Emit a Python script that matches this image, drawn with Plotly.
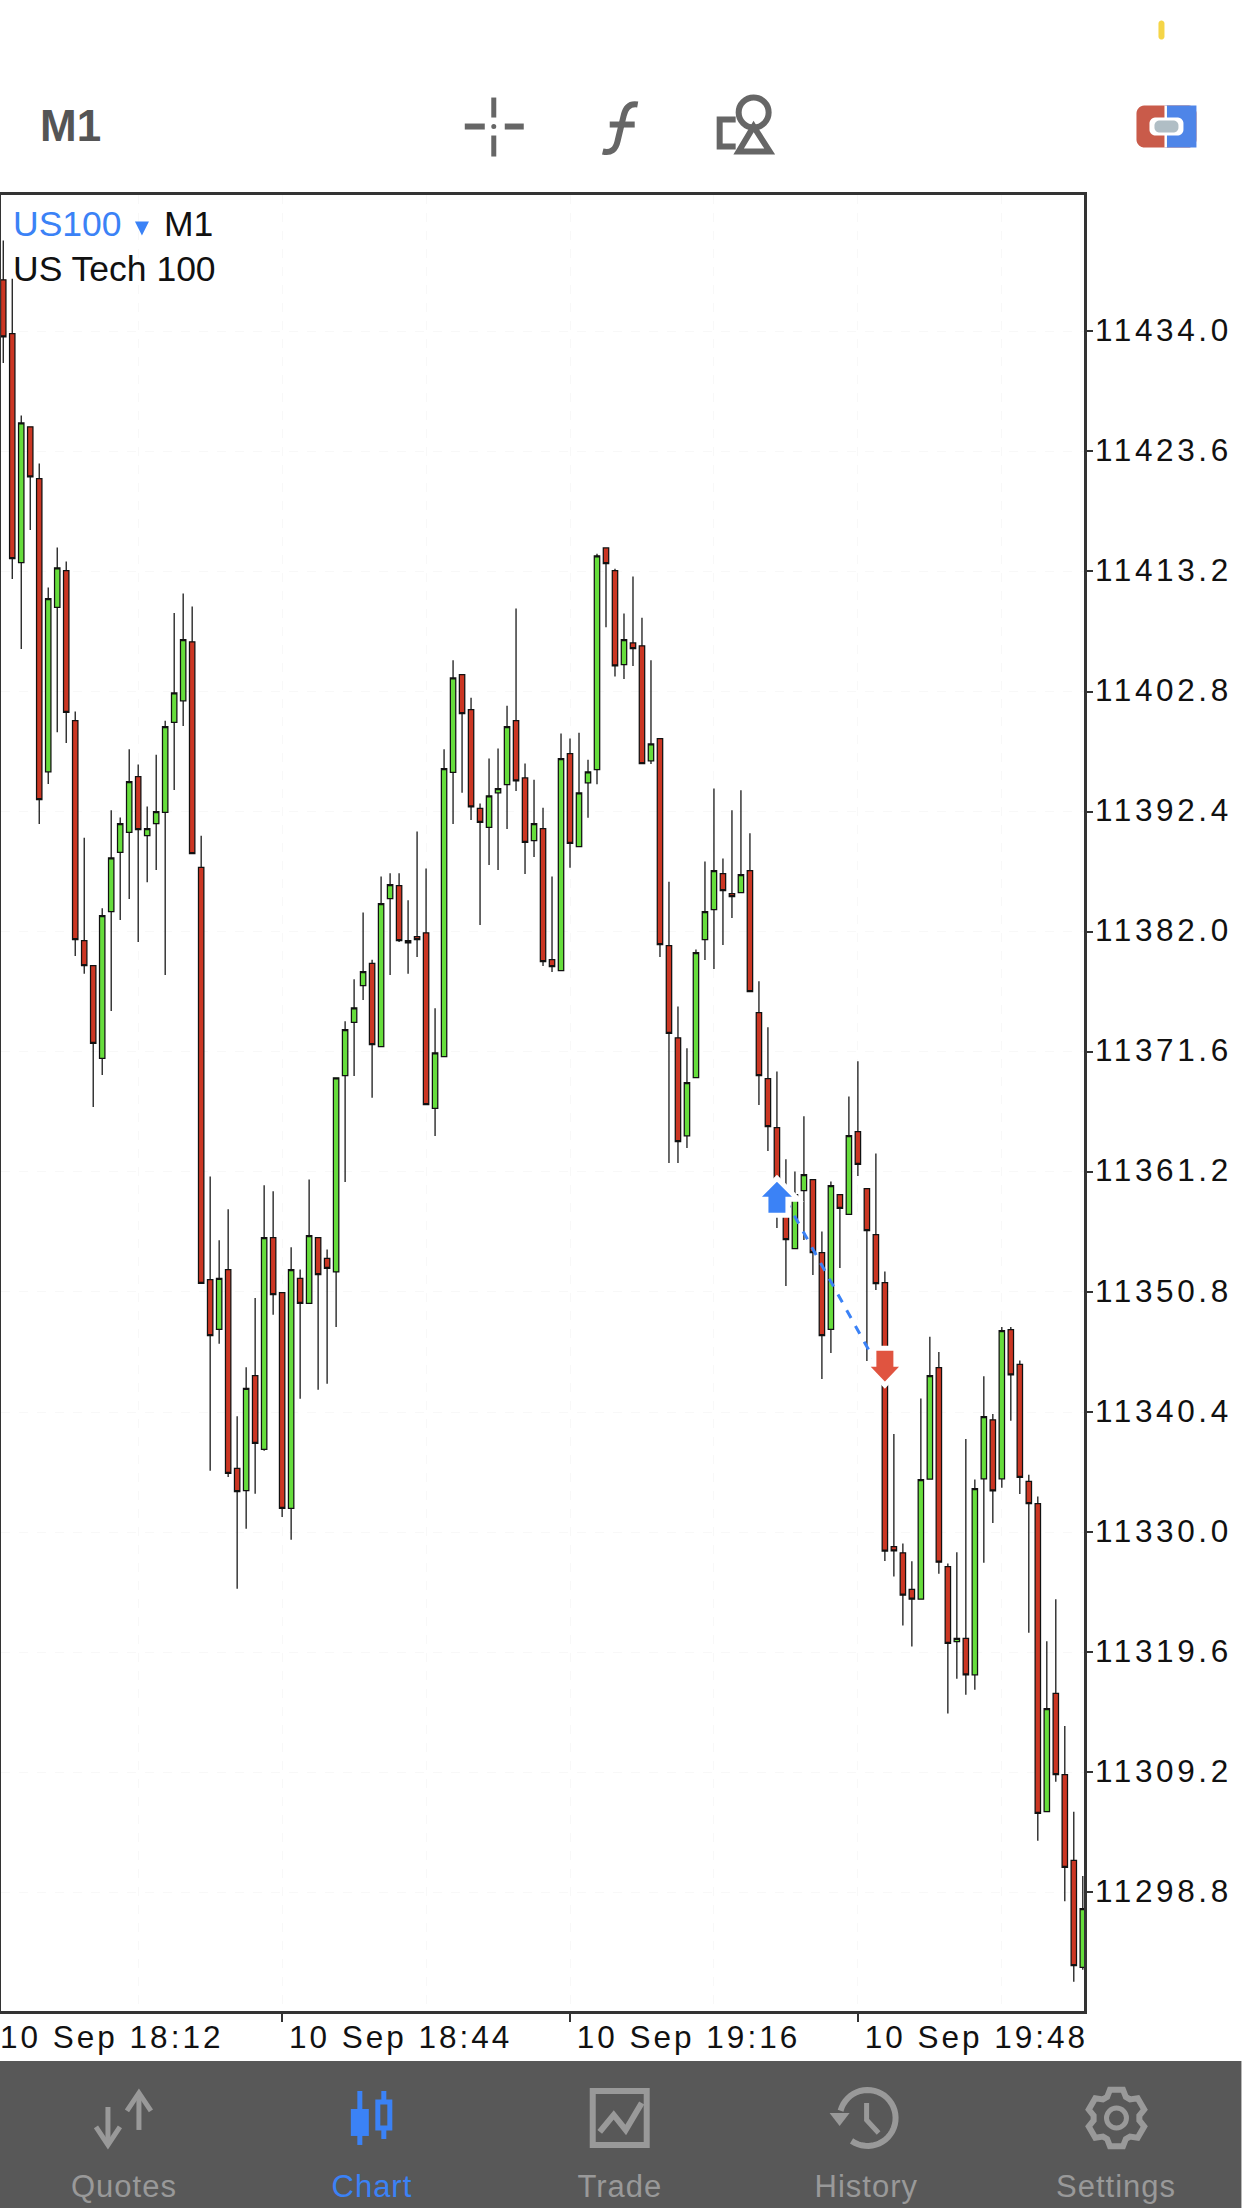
import numpy as np
import pandas as pd
import plotly.graph_objects as go

# one minute bars
times = pd.date_range("2020-09-10 18:13", periods=121, freq="min")

opens = [
    11438.46, 11433.79, 11413.97, 11425.72, 11421.24, 11395.85, 11410.08, 11413.26, 11400.27, 11381.22,
    11379.06, 11371.02, 11383.73, 11388.86, 11390.60, 11395.42, 11390.31, 11391.37, 11392.33, 11400.12,
    11402.00, 11407.11, 11387.57, 11351.88, 11347.55, 11352.74, 11335.52, 11333.60, 11343.56, 11337.16,
    11355.50, 11350.74, 11332.06, 11351.97, 11349.81, 11355.50, 11353.70, 11352.53, 11369.53, 11374.15,
    11377.32, 11379.25, 11372.04, 11384.87, 11385.98, 11381.22, 11381.57, 11381.90, 11366.69, 11371.18,
    11395.79, 11404.26, 11401.23, 11392.67, 11391.03, 11394.03, 11394.74, 11400.27, 11395.32, 11389.88,
    11390.93, 11379.58, 11378.62, 11397.43, 11389.36, 11394.89, 11396.03, 11415.24, 11413.26, 11405.12,
    11407.01, 11406.76, 11396.80, 11398.73, 11380.79, 11372.81, 11364.31, 11369.37, 11381.32, 11383.91,
    11387.03, 11385.30, 11385.38, 11387.29, 11374.99, 11369.28, 11365.04, 11358.74, 11354.56, 11359.58,
    11360.54, 11354.21, 11347.55, 11359.24, 11357.51, 11364.69, 11359.76, 11355.77, 11351.62, 11328.75,
    11328.21, 11325.04, 11324.19, 11334.59, 11344.25, 11327.01, 11320.52, 11320.79, 11317.65, 11334.62,
    11339.73, 11334.62, 11347.53, 11344.52, 11334.39, 11332.46, 11305.79, 11316.03, 11309.00, 11301.58,
    11292.30,
]
highs = [
    11441.86, 11438.55, 11426.71, 11425.72, 11422.54, 11411.81, 11415.27, 11414.07, 11401.08, 11390.13,
    11379.06, 11384.03, 11392.51, 11391.90, 11397.80, 11396.47, 11392.85, 11397.33, 11400.27, 11409.61,
    11411.28, 11410.16, 11390.31, 11360.81, 11355.28, 11357.97, 11340.03, 11344.28, 11350.27, 11360.04,
    11359.52, 11350.74, 11354.67, 11352.74, 11360.54, 11355.50, 11354.48, 11369.35, 11374.24, 11377.89,
    11383.67, 11379.58, 11386.79, 11387.06, 11387.06, 11384.72, 11390.68, 11387.47, 11375.38, 11397.80,
    11405.50, 11404.26, 11402.25, 11393.10, 11396.99, 11397.86, 11401.57, 11409.98, 11396.56, 11395.17,
    11392.73, 11386.79, 11399.16, 11398.73, 11399.22, 11396.90, 11414.74, 11415.24, 11413.44, 11409.55,
    11412.76, 11409.18, 11405.50, 11398.73, 11386.33, 11375.53, 11371.90, 11380.45, 11388.09, 11394.41,
    11388.35, 11392.51, 11394.24, 11390.52, 11377.71, 11373.72, 11369.89, 11362.29, 11361.23, 11366.02,
    11360.54, 11356.03, 11360.36, 11359.24, 11367.72, 11370.78, 11359.76, 11362.79, 11352.57, 11338.49,
    11329.02, 11327.47, 11341.58, 11346.92, 11345.60, 11327.28, 11328.25, 11338.07, 11334.55, 11343.51,
    11340.23, 11347.77, 11347.77, 11344.87, 11334.97, 11333.08, 11320.55, 11324.19, 11313.21, 11305.79,
    11300.22,
]
lows = [
    11431.26, 11412.55, 11406.49, 11416.79, 11391.33, 11394.80, 11399.28, 11398.35, 11379.90, 11378.35,
    11366.81, 11369.60, 11375.13, 11383.02, 11384.84, 11381.10, 11386.29, 11387.35, 11378.26, 11394.28,
    11399.81, 11388.77, 11351.54, 11335.31, 11346.31, 11334.78, 11325.10, 11330.29, 11333.32, 11337.04,
    11348.82, 11331.31, 11329.34, 11341.55, 11349.81, 11342.33, 11342.85, 11347.77, 11360.32, 11369.51,
    11376.09, 11367.62, 11372.04, 11378.26, 11381.10, 11378.35, 11379.80, 11367.03, 11364.31, 11371.18,
    11391.33, 11394.03, 11391.68, 11382.59, 11387.78, 11387.35, 11390.90, 11394.18, 11387.00, 11388.46,
    11379.03, 11378.50, 11378.62, 11387.53, 11389.36, 11391.86, 11394.77, 11408.37, 11404.10, 11403.89,
    11405.00, 11396.56, 11396.53, 11379.80, 11361.97, 11361.97, 11363.27, 11369.37, 11379.55, 11378.77,
    11380.85, 11383.19, 11385.38, 11376.81, 11366.99, 11363.01, 11356.35, 11351.32, 11354.56, 11355.31,
    11352.28, 11343.27, 11345.52, 11352.88, 11357.51, 11360.85, 11344.83, 11350.98, 11327.51, 11326.16,
    11321.91, 11320.09, 11324.19, 11334.59, 11326.39, 11314.30, 11317.31, 11315.92, 11316.35, 11327.36,
    11330.80, 11333.85, 11339.65, 11333.31, 11321.29, 11303.28, 11305.79, 11308.38, 11298.03, 11291.06,
    11292.11,
]
closes = [
    11433.51, 11414.31, 11426.06, 11421.39, 11393.44, 11410.85, 11413.51, 11400.99, 11381.32, 11379.06,
    11372.32, 11383.39, 11388.40, 11391.37, 11394.99, 11390.84, 11390.93, 11392.39, 11399.75, 11402.68,
    11407.29, 11388.77, 11351.54, 11347.02, 11351.97, 11335.09, 11333.52, 11342.45, 11337.69, 11355.50,
    11350.58, 11332.06, 11352.74, 11349.81, 11355.68, 11352.31, 11352.84, 11369.35, 11373.52, 11375.41,
    11378.54, 11372.23, 11384.44, 11386.08, 11381.22, 11381.04, 11381.32, 11367.03, 11371.51, 11396.13,
    11403.98, 11400.89, 11392.82, 11391.46, 11393.77, 11394.40, 11399.75, 11395.07, 11389.73, 11391.37,
    11379.40, 11378.97, 11396.99, 11389.64, 11394.03, 11395.85, 11414.55, 11413.88, 11405.03, 11407.29,
    11406.52, 11396.56, 11398.26, 11380.88, 11373.19, 11363.83, 11368.93, 11380.19, 11383.74, 11387.29,
    11385.56, 11385.04, 11386.94, 11376.81, 11369.54, 11365.13, 11359.32, 11355.34, 11359.24, 11360.97,
    11354.21, 11347.03, 11360.02, 11358.03, 11364.35, 11361.84, 11356.12, 11351.53, 11328.36, 11328.37,
    11324.54, 11324.19, 11334.55, 11343.56, 11327.40, 11320.36, 11320.79, 11317.65, 11333.77, 11340.00,
    11333.58, 11347.46, 11343.63, 11334.74, 11332.46, 11305.64, 11314.72, 11309.00, 11300.96, 11292.46,
    11297.40,
]

y_ticks = [11434.0, 11423.6, 11413.2, 11402.8, 11392.4, 11382.0, 11371.6, 11361.2, 11350.8, 11340.4, 11330.0, 11319.6, 11309.2, 11298.8]
x_ticks = ["2020-09-10 18:44", "2020-09-10 19:16", "2020-09-10 19:48"]
x_grid = ["2020-09-10 18:28", "2020-09-10 18:44", "2020-09-10 19:00", "2020-09-10 19:16", "2020-09-10 19:32", "2020-09-10 19:48", "2020-09-10 20:04"]
first_label = "10 Sep 18:12"

# the one closed trade on the chart
trade_times = ["2020-09-10 19:39", "2020-09-10 19:51"]
trade_prices = [11360.13, 11343.25]

tab_names = ["Quotes", "Chart", "Trade", "History", "Settings"]

BLUE = "#3b82f6"
RED = "#cb3623"
GREEN = "#66dd3c"
INK = "#111111"
GREY = "#666666"
TAB = "#999999"
GRID = "#f8f8f8"

W, H = 1242, 2208
LEFT, RIGHT, TOP, BOTTOM = 1, 1084.5, 194.5, 2011


def px(x):
    return (x - LEFT) / (RIGHT - LEFT)


def py(y):
    return (BOTTOM - y) / (BOTTOM - TOP)


# screen chrome is drawn in page pixels
def poly(points, color, width=5, fill=None, close=False):
    d = "M " + " L ".join("%.5f,%.5f" % (px(x), py(y)) for x, y in points)
    if close:
        d += " Z"
    return dict(type="path", xref="paper", yref="paper", path=d, layer="above",
                line=dict(color=color, width=width), fillcolor=fill or "rgba(0,0,0,0)")


def box(x0, y0, x1, y1, fill, color=None, width=0):
    return dict(type="rect", xref="paper", yref="paper", x0=px(x0), x1=px(x1), y0=py(y0), y1=py(y1),
                layer="above", fillcolor=fill, line=dict(color=color or fill, width=width))


def ring(cx, cy, r, color, width=5, fill=None):
    return dict(type="circle", xref="paper", yref="paper", x0=px(cx - r), x1=px(cx + r), y0=py(cy - r), y1=py(cy + r),
                layer="above", fillcolor=fill or "rgba(0,0,0,0)", line=dict(color=color, width=width))


def label(x, y, text, color, size, family="Liberation Sans", anchor="left"):
    return dict(xref="paper", yref="paper", x=px(x), y=py(y), text=text, showarrow=False, xanchor=anchor, yanchor="middle",
                font=dict(family=family, size=size, color=color), borderpad=0, borderwidth=0)


def smooth(cx, cy, r, a0, a1):
    return [(cx + r * np.cos(a), cy + r * np.sin(a)) for a in np.radians(np.linspace(a0, a1, 40))]


def pill(x0, y0, x1, y1, r, fill):
    pts = smooth(x1 - r, y0 + r, r, -90, 0) + smooth(x1 - r, y1 - r, r, 0, 90) + smooth(x0 + r, y1 - r, r, 90, 180) + smooth(x0 + r, y0 + r, r, 180, 270)
    return poly(pts, fill, 0, fill, True)


def gear(cx, cy):
    pts = []
    for k in range(6):
        a = -90 + k * 60
        for off, r in [(-24, 23), (-13, 29), (13, 29), (24, 23)]:
            pts.append((cx + r * np.cos(np.radians(a + off)), cy + r * np.sin(np.radians(a + off))))
    return pts


# pixel sized trade arrows hung on their price, halo eats 2.5px all round
up_arrow = "M 0,6 L 21,-15 L 11,-15 L 11,-31 L -11,-31 L -11,-15 L -21,-15 Z"
down_arrow = "M 0,-6 L 20,15 L 11,15 L 11,31 L -11,31 L -11,15 L -20,15 Z"

shapes = [
    # status bar and toolbar
    pill(1159, 20, 1165, 39, 3, "#f5d547"),
    poly([(494, 97), (494, 117)], GREY, 5),
    poly([(494, 135), (494, 156)], GREY, 5),
    poly([(465, 126), (485, 126)], GREY, 6),
    poly([(505, 126), (524, 126)], GREY, 6),
    ring(494, 126, 1.5, GREY, 2, GREY),
    dict(type="path", xref="paper", yref="paper", layer="above", line=dict(color=GREY, width=6),
         path="M %.5f,%.5f Q %.5f,%.5f %.5f,%.5f L %.5f,%.5f Q %.5f,%.5f %.5f,%.5f" % (
             px(603), py(151), px(615), py(154), px(618), py(140), px(624), py(115), px(627), py(102), px(638), py(104))),
    poly([(610, 124), (635, 124)], GREY, 6),
    ring(754, 112, 15, GREY, 6),
    poly([(754, 126), (770, 151), (739, 151)], GREY, 6, close=True),
    poly([(736, 119), (720, 119), (720, 146), (736, 146)], GREY, 6),
    # broker icon
    pill(1137, 105, 1197, 147, 8, "#c95b4a"),
    box(1166, 105, 1197, 147, "#4e85e8"),
    box(1165, 105, 1167.5, 147, "#ffffff"),
    pill(1150, 117, 1184, 135, 6, "#ffffff"),
    pill(1155, 120, 1179, 132, 5, "#b0bec5"),
    # dropdown marker next to the symbol
    poly([(135, 221), (149, 221), (142, 235)], BLUE, 0, BLUE, True),
    # trade arrows
    dict(type="path", xref="x", yref="y", xsizemode="pixel", ysizemode="pixel", xanchor=trade_times[0], yanchor=trade_prices[0],
         path=up_arrow, fillcolor=BLUE, line=dict(color="#ffffff", width=5), layer="above"),
    dict(type="path", xref="x", yref="y", xsizemode="pixel", ysizemode="pixel", xanchor=trade_times[1], yanchor=trade_prices[1],
         path=down_arrow, fillcolor="#e05440", line=dict(color="#ffffff", width=5), layer="above"),
    # tab bar
    box(0, 2061, W, H, "#585858"),
    poly([(108, 2107), (108, 2143)], TAB, 5),
    poly([(96, 2127), (108, 2145), (120, 2127)], TAB, 5),
    poly([(139, 2093), (139, 2130)], TAB, 5),
    poly([(127, 2111), (139, 2093), (151, 2111)], TAB, 5),
    poly([(360, 2091), (360, 2145)], BLUE, 5),
    box(351, 2109, 369, 2136, BLUE),
    poly([(384, 2091), (384, 2100)], BLUE, 5),
    poly([(384, 2130), (384, 2139)], BLUE, 5),
    box(378, 2102, 390, 2128, "rgba(0,0,0,0)", BLUE, 5),
    box(593, 2091, 647, 2145, "rgba(0,0,0,0)", TAB, 6),
    poly([(600, 2132), (614, 2115), (626, 2130), (642, 2103)], TAB, 6),
    poly(smooth(868, 2118, 28, 195, 485), TAB, 6),
    poly([(830, 2113), (850, 2113), (840, 2126)], TAB, 0, TAB, True),
    poly([(867, 2103), (867, 2120), (879, 2133)], TAB, 5),
    poly(gear(1117, 2118), TAB, 6, close=True),
    ring(1117, 2118, 10, TAB, 5),
]

annotations = [
    label(40, 125, "<b>M1</b>", "#555555", 44),
    label(13, 224, "US100", BLUE, 35.5),
    label(164, 224, "M1", "#111111", 35.5),
    label(13, 269, "US Tech 100", "#111111", 35.5),
    label(18, 2037, first_label, INK, 31.5),
]
for name, cx in zip(tab_names, [124, 372, 620, 867, 1117]):
    annotations.append(label(cx, 2187, name, BLUE if name == "Chart" else TAB, 31, anchor="center"))

fig = go.Figure()
fig.add_trace(go.Candlestick(
    x=times, open=opens, high=highs, low=lows, close=closes,
    increasing=dict(fillcolor=GREEN, line=dict(color=INK, width=1.25)),
    decreasing=dict(fillcolor=RED, line=dict(color=INK, width=1.25)),
    whiskerwidth=0, showlegend=False,
))
fig.add_trace(go.Scatter(
    x=trade_times, y=trade_prices, mode="lines", showlegend=False,
    line=dict(color=BLUE, width=3, dash="9px,9px"),
))

fig.update_layout(
    width=W, height=H,
    margin=dict(l=LEFT, r=W - RIGHT, t=TOP, b=H - BOTTOM, pad=0, autoexpand=False),
    paper_bgcolor="#ffffff", plot_bgcolor="#ffffff",
    boxgap=0.4, boxgroupgap=0,
    showlegend=False,
    shapes=shapes,
    annotations=annotations,
    xaxis=dict(
        type="date",
        range=["2020-09-10 18:12:45", "2020-09-10 20:13:08"],
        rangeslider=dict(visible=False),
        tickmode="array", tickvals=x_ticks, tickformat="%d %b %H:%M",
        ticklabelposition="outside right", ticklabelstandoff=-4,
        ticks="outside", ticklen=8, tickwidth=2, tickcolor="#333333",
        tickfont=dict(family="Liberation Sans", size=31.5, color=INK),
        showline=True, linecolor="#333333", linewidth=2.5, mirror=True,
        showgrid=False, zeroline=False,
        minor=dict(tickmode="array", tickvals=x_grid, showgrid=True, gridcolor=GRID, griddash="dash", gridwidth=1, ticks=""),
    ),
    yaxis=dict(
        side="right",
        range=[11288.53, 11445.80],
        tickmode="array", tickvals=y_ticks, tickformat=".1f", ticklabelstandoff=-4,
        ticks="outside", ticklen=6, tickwidth=2, tickcolor="#333333",
        tickfont=dict(family="Liberation Sans", size=31.5, color=INK),
        showline=True, linecolor="#333333", linewidth=2.5, mirror=True,
        showgrid=True, gridcolor=GRID, griddash="dash", gridwidth=1, zeroline=False,
    ),
)

# page margin off, and the wide tracking the app uses on its axis labels
post = """
document.body.style.margin = '0';
function track() {
    document.querySelectorAll('.xtick text').forEach(function (t) { t.style.letterSpacing = '3px'; t.setAttribute('dx', '4.5'); });
    document.querySelectorAll('.ytick text').forEach(function (t) { t.style.letterSpacing = '3.6px'; t.setAttribute('dy', '-1.5'); });
    document.querySelectorAll('.annotation-text').forEach(function (t) {
        if (t.textContent.indexOf('10 Sep') === 0) t.style.letterSpacing = '3px';
        if (['Quotes', 'Chart', 'Trade', 'History', 'Settings'].indexOf(t.textContent) >= 0) t.style.letterSpacing = '1px';
    });
}
track();
setTimeout(track, 200);
"""
fig.write_html("out.html", post_script=post, config={"displayModeBar": False})
